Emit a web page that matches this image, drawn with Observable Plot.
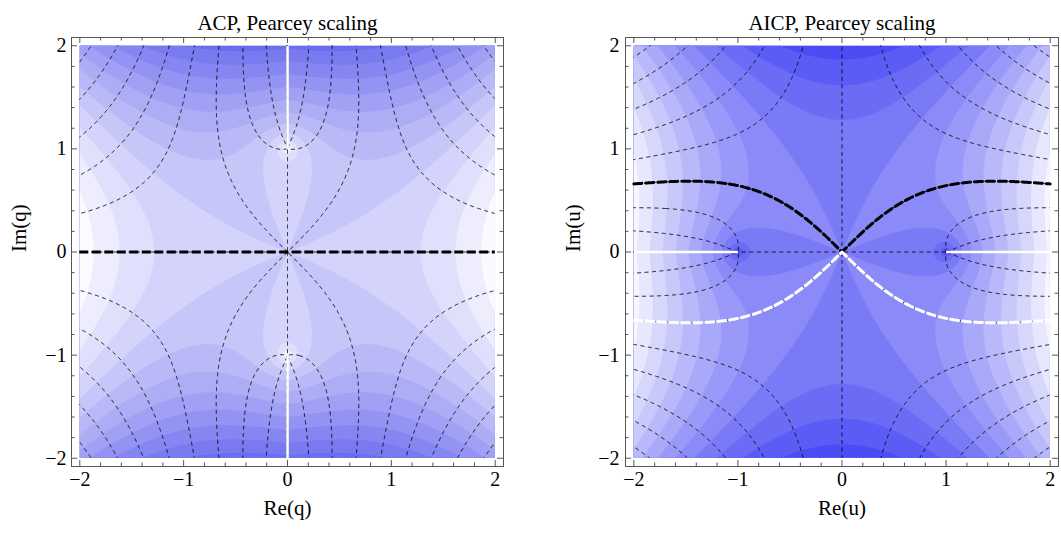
<!DOCTYPE html>
<html><head><meta charset="utf-8">
<script src="https://cdn.jsdelivr.net/npm/d3@7"></script>
<script src="https://cdn.jsdelivr.net/npm/@observablehq/plot@0.6"></script>
<style>
html,body{margin:0;padding:0;background:#fff;overflow:hidden}
#wrap{position:relative;width:1061px;height:534px}
#wrap svg{position:absolute;top:0}
</style></head><body><div id="wrap"></div>
<script>
// ---------------- data ----------------
const panelTitles = ["ACP, Pearcey scaling", "AICP, Pearcey scaling"];
const xLabels = ["Re(q)", "Re(u)"];
const yLabels = ["Im(q)", "Im(u)"];
const majorTicks = [-2, -1, 0, 1, 2];
const minorTicks = [-1.8,-1.6,-1.4,-1.2,-0.8,-0.6,-0.4,-0.2,0.2,0.4,0.6,0.8,1.2,1.4,1.6,1.8];
const plotRange = [-2, 2];
const frameRange = [-2.08, 2.08];
// phase function coefficients: q^2 + cS*(sqrt(1+q^2)-1) + cL*log(sqrt(1+q^2))
const phaseCoefs = {q2: 1, cS: -0.5, cL: -1.5};
const shadeLevelsACP  = [-30,-4.8,-4.2,-3.6,-3.0,-2.4,-1.8,-1.2,-0.6,0,0.6,1.2,1.8,2.4,3.0,3.6];
const shadeLevelsAICP = [-30,-2.4,-1.8,-1.2,-0.6,0,0.6,1.2,1.8,2.4,3.0,3.6,4.2];
const shadeDomainACP  = [-4.8, 1.8];
const shadeDomainAICP = [-2.4, 4.2];
const phaseLevels = [-7.7,-6.6,-5.5,-4.4,-3.3,-2.2,-1.1,0,1.1,2.2,3.3,4.4,5.5,6.6,7.7];
const branchCutsACP  = [{x1:0,y1:1,x2:0,y2:2},{x1:0,y1:-1,x2:0,y2:-2}];
const branchCutsAICP = [{x1:1,y1:0,x2:2,y2:0},{x1:-1,y1:0,x2:-2,y2:0}];
const stokesACP = [0];

// ---------------- the plotted complex phase functions ----------------
function csqrt(a, b) {
  const r = Math.hypot(a, b);
  const re = Math.sqrt(Math.max(0, (r + a) / 2));
  let im = Math.sqrt(Math.max(0, (r - a) / 2));
  if (b < 0) im = -im;
  return [re, im];
}
function phiACP(x, y) {
  const {q2, cS, cL} = phaseCoefs;
  const s = csqrt(1 + x*x - y*y, 2*x*y);
  let re = q2*(x*x - y*y) + cS*(s[0] - 1) + cL*Math.log(Math.hypot(s[0], s[1]));
  const im = q2*2*x*y + cS*s[1] + cL*Math.atan2(s[1], s[0]);
  if (!isFinite(re)) re = 50;
  return [re, im];
}
// AICP phase = -ACP phase at i*u
function phiAICP(x, y) {
  const f = phiACP(-y, x);
  return [-f[0], -f[1]];
}
function stokesCurve(phi) {
  const pts = [];
  for (let i = -200; i <= 200; i++) {
    const x = i / 100;
    if (i === 0) { pts.push({x: 0, y: 0}); continue; }
    let prevY = 0.001, prevV = phi(x, prevY)[1], found = null;
    for (let y = 0.005; y <= 2.2; y += 0.005) {
      const v = phi(x, y)[1];
      if (Math.sign(v) !== Math.sign(prevV)) {
        let lo = prevY, hi = y;
        for (let k = 0; k < 40; k++) {
          const m = (lo + hi) / 2;
          if (Math.sign(phi(x, m)[1]) === Math.sign(prevV)) lo = m; else hi = m;
        }
        found = (lo + hi) / 2; break;
      }
      prevY = y; prevV = v;
    }
    if (found !== null) pts.push({x, y: found});
  }
  return pts;
}

const FONT = "Liberation Serif, Times New Roman, serif";
const frameColor = "#555";
const fmt = d => d < 0 ? "\u2212" + (-d) : String(d);

function makePanel(cfg) {
  const {width, height, mL, mR, mT, mB} = cfg;
  const pxX = (width - mL - mR) / (frameRange[1] - frameRange[0]);
  const pxY = (height - mT - mB) / (frameRange[1] - frameRange[0]);
  const [lo, hi] = frameRange;
  const tickSet = (ticks, len) => [
    Plot.ruleX(ticks, {x: d => d, y1: lo, y2: lo + len / pxY, stroke: frameColor}),
    Plot.ruleX(ticks, {x: d => d, y1: hi, y2: hi - len / pxY, stroke: frameColor}),
    Plot.ruleY(ticks, {y: d => d, x1: lo, x2: lo + len / pxX, stroke: frameColor}),
    Plot.ruleY(ticks, {y: d => d, x1: hi, x2: hi - len / pxX, stroke: frameColor})
  ];
  const ext = [-2.25, 2.25];
  const fig = Plot.plot({
    width, height, marginLeft: mL, marginRight: mR, marginTop: mT, marginBottom: mB,
    x: {domain: frameRange, axis: null},
    y: {domain: frameRange, axis: null},
    color: {type: "linear", domain: cfg.domain, range: cfg.colors, interpolate: "rgb", clamp: true},
    style: {fontFamily: FONT, fontSize: "20px", color: "black", background: "white"},
    marks: [
      Plot.contour({fill: (x, y) => cfg.phi(x, y)[0], x1: plotRange[0], x2: plotRange[1], y1: plotRange[0], y2: plotRange[1],
        thresholds: cfg.levels, stroke: "none", pixelSize: 1}),
      Plot.contour({value: (x, y) => cfg.phi(x, y)[1], x1: ext[0], x2: ext[1], y1: ext[0], y2: ext[1],
        thresholds: phaseLevels, fill: "none", stroke: "black", strokeWidth: 0.9, strokeDasharray: "4,3.5",
        pixelSize: 1}),
      Plot.link(cfg.cuts, {x1: "x1", y1: "y1", x2: "x2", y2: "y2", stroke: "white", strokeWidth: 2.6}),
      ...cfg.thick,
      Plot.frame({stroke: frameColor, strokeWidth: 1}),
      ...tickSet(majorTicks, 6),
      ...tickSet(minorTicks, 3.5),
      Plot.text(majorTicks, {x: d => d, frameAnchor: "bottom", lineAnchor: "middle", dy: 13, text: fmt, fontSize: 20}),
      Plot.text(majorTicks, {y: d => d, frameAnchor: "left", lineAnchor: "middle", dx: cfg.yTickDx, textAnchor: "end", text: fmt, fontSize: 20}),
      Plot.text([cfg.title], {frameAnchor: "top", lineAnchor: "middle", dy: -14.5, text: d => d, fontSize: 21}),
      Plot.text([cfg.xLabel], {frameAnchor: "bottom", lineAnchor: "middle", dy: 42, text: d => d, fontSize: 21}),
      Plot.text([cfg.yLabel], {frameAnchor: "left", lineAnchor: "middle", dx: -52, rotate: -90, text: d => d, fontSize: 21})
    ]
  });
  // clip the contour marks to the shaded square
  const sx = fig.scale("x"), sy = fig.scale("y");
  const ns = "http://www.w3.org/2000/svg";
  const defs = document.createElementNS(ns, "defs");
  const cp = document.createElementNS(ns, "clipPath");
  cp.setAttribute("id", cfg.id);
  cp.setAttribute("clipPathUnits", "userSpaceOnUse");
  const rect = document.createElementNS(ns, "rect");
  const rx = sx.apply(plotRange[0]), ry = sy.apply(plotRange[1]);
  rect.setAttribute("x", rx); rect.setAttribute("y", ry);
  rect.setAttribute("width", sx.apply(plotRange[1]) - rx);
  rect.setAttribute("height", sy.apply(plotRange[0]) - ry);
  cp.appendChild(rect); defs.appendChild(cp); fig.insertBefore(defs, fig.firstChild);
  Array.from(fig.querySelectorAll('g[aria-label="contour"]')).forEach(g => {
    const wrapper = document.createElementNS(ns, "g");
    wrapper.setAttribute("clip-path", `url(#${cfg.id})`);
    g.parentNode.insertBefore(wrapper, g);
    wrapper.appendChild(g);
  });
  fig.style.left = cfg.left + "px";
  return fig;
}

const curve = stokesCurve(phiAICP);
const wrap = document.getElementById("wrap");
wrap.appendChild(makePanel({
  id: "clipA", left: 0, width: 531, height: 534, mL: 71, mR: 28, mT: 37, mB: 68, yTickDx: -5,
  phi: phiACP, levels: shadeLevelsACP, domain: shadeDomainACP, colors: ["#6c6cef", "#fafaff"], cuts: branchCutsACP,
  title: panelTitles[0], xLabel: xLabels[0], yLabel: yLabels[0],
  thick: [Plot.ruleY(stokesACP, {y: d => d, x1: plotRange[0], x2: plotRange[1], stroke: "black", strokeWidth: 3, strokeDasharray: "9,3.5"})]
}));
wrap.appendChild(makePanel({
  id: "clipB", left: 531, width: 530, height: 534, mL: 94, mR: 3, mT: 37, mB: 68, yTickDx: -6,
  phi: phiAICP, levels: shadeLevelsAICP, domain: shadeDomainAICP, colors: ["#4c4cf4", "#f6f6fe"], cuts: branchCutsAICP,
  title: panelTitles[1], xLabel: xLabels[1], yLabel: yLabels[1],
  thick: [
    Plot.line(curve, {x: "x", y: "y", stroke: "black", strokeWidth: 3, strokeDasharray: "8,4"}),
    Plot.line(curve, {x: "x", y: d => -d.y, stroke: "white", strokeWidth: 3, strokeDasharray: "8,4"})
  ]
}));
</script></body></html>
